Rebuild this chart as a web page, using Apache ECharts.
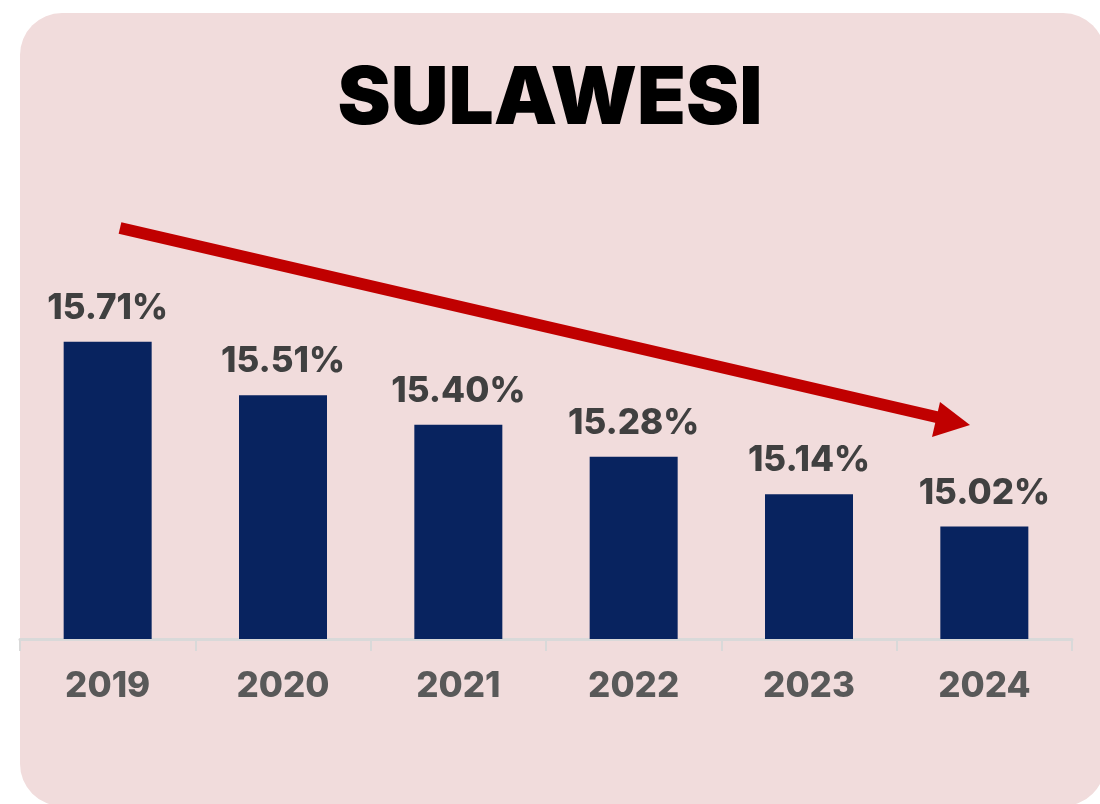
<!DOCTYPE html>
<html>
<head>
<meta charset="utf-8">
<script src="https://cdn.jsdelivr.net/npm/echarts@6/dist/echarts.min.js"></script>
<style>
  html, body { margin: 0; padding: 0; background: #ffffff; }
  #chart { width: 1100px; height: 804px; }
</style>
</head>
<body>
<div id="chart"></div>
<script>
// data
const years = ['2019', '2020', '2021', '2022', '2023', '2024'];
const shares = [15.71, 15.51, 15.40, 15.28, 15.14, 15.02];

const chart = echarts.init(document.getElementById('chart'));

const option = {
    backgroundColor: '#ffffff',
    title: {
        text: 'SULAWESI',
        left: 'center',
        top: 55,
        textStyle: {
            fontFamily: 'Inter',
            fontWeight: 900,
            fontSize: 80,
            color: '#000000'
        }
    },
    // pink card and the trend arrow
    graphic: [
        {
            type: 'rect',
            z: -10,
            silent: true,
            shape: { x: 20, y: 13, width: 1085, height: 793, r: 42 },
            style: { fill: '#f1dcdc' }
        },
        {
            type: 'line',
            z: 10,
            silent: true,
            shape: { x1: 120, y1: 228, x2: 945, y2: 419 },
            style: { stroke: '#c00000', lineWidth: 12 }
        },
        {
            type: 'polygon',
            z: 10,
            silent: true,
            shape: { points: [[970, 425], [940, 402], [932, 437]] },
            style: { fill: '#c00000' }
        }
    ],
    grid: {
        left: 20,
        right: 28,
        top: 264,
        bottom: 165,
        containLabel: false
    },
    xAxis: {
        type: 'category',
        data: years,
        axisLine: { show: true, lineStyle: { color: '#d9d9d9', width: 3 } },
        axisTick: { show: true, length: 12, lineStyle: { color: '#d9d9d9', width: 2 } },
        axisLabel: {
            margin: 30,
            fontFamily: 'Inter',
            fontWeight: 800,
            fontSize: 35,
            color: '#595959'
        }
    },
    yAxis: {
        type: 'value',
        min: 14.6,
        max: 16.0,
        show: false,
        splitLine: { show: false }
    },
    series: [
        {
            type: 'bar',
            data: shares,
            barWidth: 88,
            itemStyle: { color: '#08235f' },
            label: {
                show: true,
                position: 'top',
                distance: 16,
                fontFamily: 'Inter',
                fontWeight: 800,
                fontSize: 35,
                color: '#404040',
                formatter: p => p.value.toFixed(2) + '%'
            }
        }
    ]
};

chart.setOption(option);
</script>
</body>
</html>
